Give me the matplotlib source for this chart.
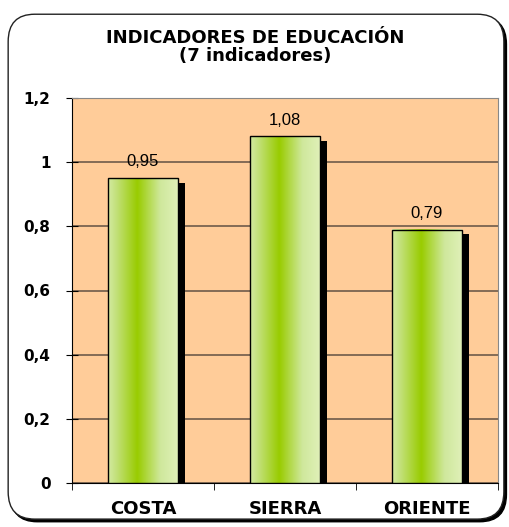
import matplotlib
matplotlib.use("Agg")
import matplotlib.pyplot as plt
import numpy as np
from matplotlib.patches import FancyBboxPatch
from matplotlib.colors import LinearSegmentedColormap

categories = ["COSTA", "SIERRA", "ORIENTE"]
values = [0.95, 1.08, 0.79]
value_labels = ["0,95", "1,08", "0,79"]
yticks = [0, 0.2, 0.4, 0.6, 0.8, 1.0, 1.2]
ytick_labels = ["0", "0,2", "0,4", "0,6", "0,8", "1", "1,2"]
title = "INDICADORES DE EDUCACIÓN\n(7 indicadores)"

plt.rcParams['font.family'] = ['Liberation Sans', 'DejaVu Sans']
BOLD = ['DejaVu Sans', 'Liberation Sans']

fig = plt.figure(figsize=(5.10, 5.27), dpi=100)
fig.patch.set_facecolor("white")

# rounded frame with shadow
shadow = FancyBboxPatch((0.021, 0.010), 0.972, 0.958, boxstyle="round,pad=0,rounding_size=0.052",
                        transform=fig.transFigure, facecolor="black", edgecolor="black", lw=1, zorder=0)
frame = FancyBboxPatch((0.016, 0.015), 0.972, 0.958, boxstyle="round,pad=0,rounding_size=0.052",
                       transform=fig.transFigure, facecolor="white", edgecolor="#222222", lw=1, zorder=0.5)
fig.patches.extend([shadow, frame])

ax = fig.add_axes([72/510, 1-483/527, (498-72)/510, (483-98)/527])
ax.set_facecolor("#ffcc99")
ax.set_zorder(2)

x = np.arange(len(categories))
bw = 0.49
bars = ax.bar(x, values, width=bw, facecolor="none", edgecolor="black", lw=1.0, zorder=4)

cmap = LinearSegmentedColormap.from_list("g", [(0, "#d4eba2"), (0.12, "#c2e07a"), (0.42, "#99cc00"),
                                              (0.75, "#cfe89c"), (1.0, "#e0f0b8")])
grad = np.linspace(0, 1, 256).reshape(1, -1)
for b in bars:
    bx, bwid, bh = b.get_x(), b.get_width(), b.get_height()
    # shadow
    ax.bar(bx + bwid/2 + 0.05, bh - 0.015, width=bwid, color="black", zorder=2.5)
    ax.imshow(grad, extent=(bx, bx + bwid, 0, bh), aspect="auto", cmap=cmap, zorder=3, interpolation="bicubic")

for xi, v, lab in zip(x, values, value_labels):
    ax.text(xi, v + 0.028, lab, ha="center", va="bottom", fontsize=12, zorder=5)

ax.set_xlim(-0.5, 2.5)
ax.set_ylim(0, 1.2)
ax.set_yticks(yticks)
ax.set_yticklabels(ytick_labels, fontsize=11, fontweight="bold", family=BOLD)
ax.yaxis.grid(True, color="#6e5a4a", lw=1.2, zorder=1)
ax.set_axisbelow(True)
ax.set_xticks(x)
ax.set_xticklabels(categories, fontsize=13, fontweight="bold", family=BOLD)
ax.tick_params(axis="x", length=0, pad=12)
ax.set_xticks([-0.5, 0.5, 1.5, 2.5], minor=True)
ax.tick_params(axis="x", which="minor", length=5, direction="out", color="black")
ax.tick_params(axis="y", length=9, direction="inout", pad=11)
for s in ["top", "right"]:
    ax.spines[s].set_color("#888888")
for s in ["left", "bottom"]:
    ax.spines[s].set_color("black")

fig.text(0.5, 1-47/527, title, ha="center", va="center", fontsize=13, fontweight="bold",
         family=BOLD, linespacing=1.05)

fig.savefig("out.png", dpi=100)
